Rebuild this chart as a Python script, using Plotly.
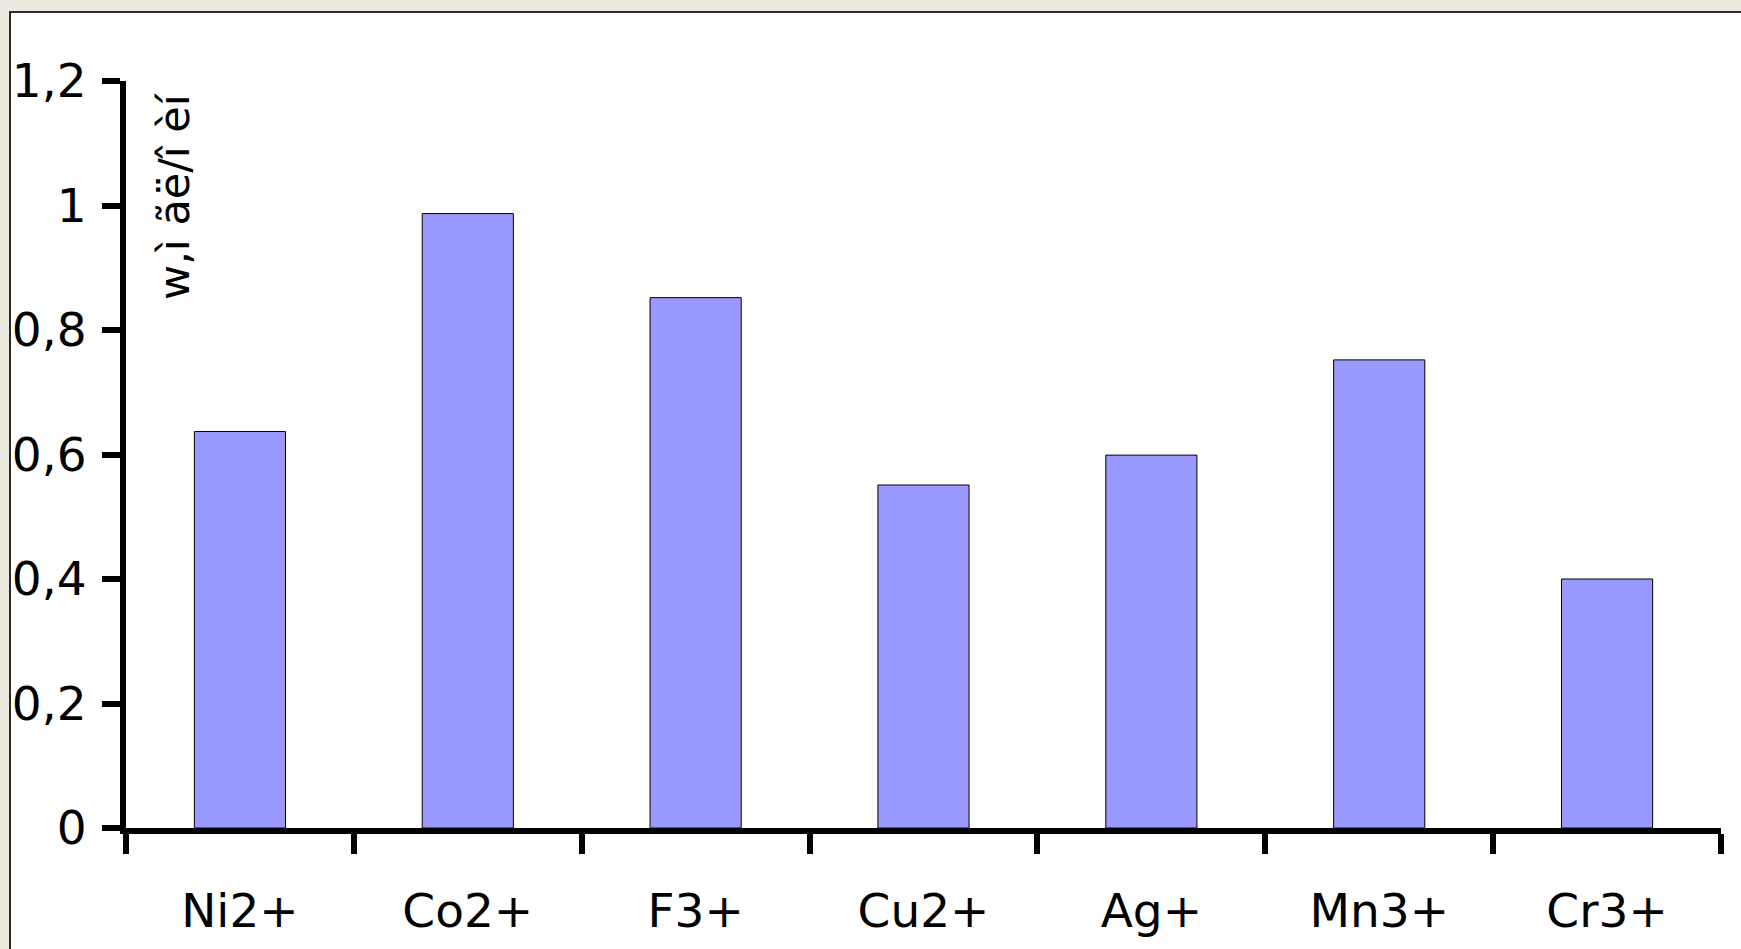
import plotly.graph_objects as go

categories = ["Ni2+", "Co2+", "F3+", "Cu2+", "Ag+", "Mn3+", "Cr3+"]
values = [0.637, 0.987, 0.852, 0.551, 0.599, 0.752, 0.40]
y_title = "w,ì ãë/î èí"

W, H = 1741, 949
L, R, T, B = 126, 20, 81, 121
PW = W - L - R
PH = H - T - B

def px_x(px):
    return (px - L) / PW

def px_y(py):
    return (H - B - py) / PH

FONT = "DejaVu Sans"

fig = go.Figure()
fig.add_trace(go.Bar(
    x=categories, y=values,
    marker=dict(color="#9999FF", line=dict(color="#000000", width=1)),
))

fig.update_layout(
    width=W, height=H,
    margin=dict(l=L, r=R, t=T, b=B, autoexpand=False),
    paper_bgcolor="#ECE9DF",
    plot_bgcolor="rgba(0,0,0,0)",
    separators=", ",
    bargap=0.6,
    showlegend=False,
    font=dict(family=FONT, color="#000000"),
    shapes=[dict(
        type="rect", xref="paper", yref="paper",
        x0=px_x(10), x1=px_x(1800), y0=px_y(1000), y1=px_y(12),
        fillcolor="#FFFFFF", line=dict(color="#2a2a2a", width=2),
        layer="below",
    )],
    annotations=[dict(
        text=y_title, xref="paper", yref="paper",
        x=px_x(174), y=px_y(196), showarrow=False, textangle=-90,
        xanchor="center", yanchor="middle",
        font=dict(family=FONT, size=43, color="#000000"),
    )],
)

fig.update_xaxes(
    automargin=False,
    showline=True, linewidth=6, linecolor="#000000",
    ticks="outside", ticklen=20, tickwidth=6, tickcolor="#000000",
    tickson="boundaries", ticklabelstandoff=37,
    tickfont=dict(family=FONT, size=47, color="#000000"),
    showgrid=False, zeroline=False,
)
fig.update_yaxes(
    automargin=False,
    range=[0, 1.2], dtick=0.2, tick0=0,
    showline=True, linewidth=6, linecolor="#000000",
    ticks="outside", ticklen=18, tickwidth=6, tickcolor="#000000",
    ticklabelstandoff=6,
    tickfont=dict(family=FONT, size=47, color="#000000"),
    showgrid=False, zeroline=False,
)

fig.write_html(
    "out.html",
    config={"displayModeBar": False},
    post_script="document.body.style.margin='0';document.body.style.background='#ECE9DF';",
)
